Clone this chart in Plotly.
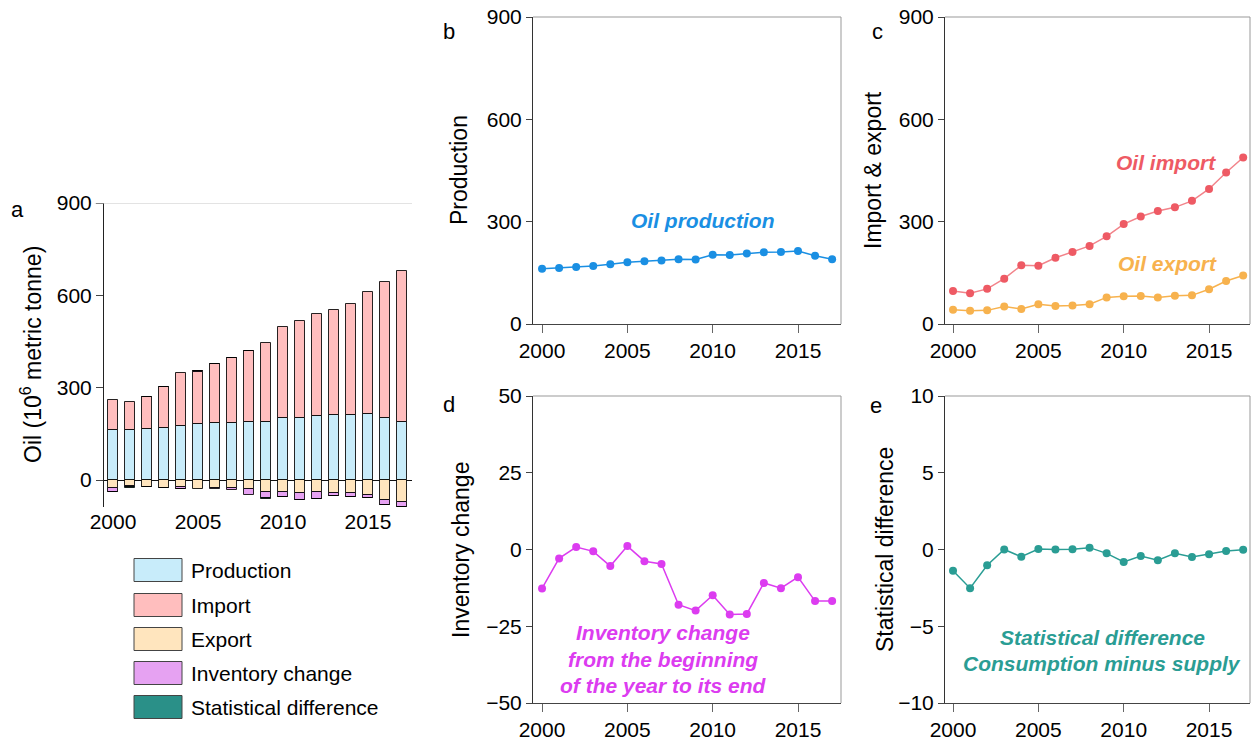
import plotly.graph_objects as go

# ---------------- data ----------------
years = list(range(2000, 2018))
production = [162, 164, 167, 170, 175, 181, 184, 186, 190, 189, 203, 202, 207, 210, 211, 214, 200, 190]
oil_import = [97, 90, 103, 133, 172, 171, 194, 211, 229, 257, 293, 315, 331, 342, 361, 396, 444, 488]
oil_export = [42, 39, 40, 51, 44, 58, 53, 54, 58, 78, 81, 82, 78, 83, 84, 102, 126, 142]
# export as drawn in the stacked bar panel (a)
export_bar = [-25, -21, -22, -25, -24, -29, -27, -27, -30, -40, -40, -43, -40, -42, -43, -49, -65, -70]
inventory = [-12.7, -2.9, 0.8, -0.6, -5.4, 1.1, -3.8, -4.7, -18.0, -19.9, -14.9, -21.2, -21.0,
             -10.9, -12.6, -9.0, -16.8, -16.8]
stat_diff = [-1.38, -2.52, -1.03, 0.0, -0.47, 0.03, 0.0, 0.01, 0.12, -0.25, -0.81, -0.42, -0.70,
             -0.25, -0.49, -0.31, -0.10, -0.01]

year_ticks = [2000, 2005, 2010, 2015]
legend_names = ["Production", "Import", "Export", "Inventory change", "Statistical difference"]
bar_colors = ["#C8ECFA", "#FFBEBE", "#FFE5BE", "#E6A2F2", "#2A9088"]

# ---------------- layout helpers ----------------
W, H = 1252, 742
FONT = "Liberation Sans, Arial, sans-serif"


def px(x):
    return x / W


def py(y):
    return 1 - y / H


fig = go.Figure()

# Panel a: stacked bars
bar_series = [production, oil_import, export_bar, inventory, stat_diff]
for name, vals, col in zip(legend_names, bar_series, bar_colors):
    fig.add_trace(go.Bar(x=years, y=vals, name=name, width=0.6,
                         marker=dict(color=col, line=dict(color="rgba(0,0,0,0.85)", width=1)),
                         xaxis="x", yaxis="y", showlegend=False))

# Panel b: production
prod_col = "#1A8FE3"
fig.add_trace(go.Scatter(x=years, y=production, mode="lines+markers",
                         line=dict(color=prod_col, width=1.5), marker=dict(color=prod_col, size=8),
                         xaxis="x2", yaxis="y2", showlegend=False))
# Panel c: import & export
imp_col = "#EE5A64"
exp_col = "#F7B24E"
fig.add_trace(go.Scatter(x=years, y=oil_import, mode="lines+markers",
                         line=dict(color="#F2838A", width=1.5), marker=dict(color=imp_col, size=8),
                         xaxis="x3", yaxis="y3", showlegend=False))
fig.add_trace(go.Scatter(x=years, y=oil_export, mode="lines+markers",
                         line=dict(color=exp_col, width=1.5), marker=dict(color=exp_col, size=8),
                         xaxis="x3", yaxis="y3", showlegend=False))
# Panel d: inventory
inv_col = "#DC3CF0"
fig.add_trace(go.Scatter(x=years, y=inventory, mode="lines+markers",
                         line=dict(color=inv_col, width=1.5), marker=dict(color=inv_col, size=8),
                         xaxis="x4", yaxis="y4", showlegend=False))
# Panel e: statistical difference
st_col = "#2A9D94"
fig.add_trace(go.Scatter(x=years, y=stat_diff, mode="lines+markers",
                         line=dict(color=st_col, width=1.5), marker=dict(color=st_col, size=8),
                         xaxis="x5", yaxis="y5", showlegend=False))

tickfont = dict(family=FONT, size=21, color="black")

# domains
dom_a_x = [px(104), px(412)]
dom_a_y = [py(507), py(203)]
dom_b_x = [px(533), px(841)]
dom_c_x = [px(945), px(1250)]
dom_top_y = [py(324), py(17)]
dom_bot_y = [py(703), py(396)]


def xax(domain, rng, anchor):
    return dict(domain=domain, range=rng, anchor=anchor, tickvals=year_ticks, tickfont=tickfont,
                showline=True, linecolor="#444", linewidth=1, ticks="outside", ticklen=8,
                tickcolor="#666", showgrid=False, zeroline=False, automargin=False)


def yax(domain, rng, anchor, tv):
    return dict(domain=domain, range=rng, anchor=anchor, tickvals=tv, tickfont=tickfont,
                showline=True, linecolor="#333", linewidth=1, ticks="outside", ticklen=6,
                tickcolor="#444", showgrid=False, zeroline=False, automargin=False)


fig.update_layout(
    width=W, height=H, margin=dict(l=0, r=0, t=0, b=0, pad=0),
    paper_bgcolor="white", plot_bgcolor="white",
    barmode="relative", bargap=0,
    font=dict(family=FONT, size=21, color="black"),
    xaxis=dict(domain=dom_a_x, range=[1999.47, 2017.59], anchor="y", tickvals=year_ticks,
               tickfont=tickfont, showline=False, ticks="", showgrid=False, zeroline=False,
               automargin=False),
    yaxis=dict(domain=dom_a_y, range=[-87.7, 900], anchor="x", tickvals=[0, 300, 600, 900],
               tickfont=tickfont, showline=True, linecolor="#222", linewidth=1, ticks="outside",
               ticklen=7, tickcolor="#444", showgrid=False, zeroline=True,
               zerolinecolor="#111", zerolinewidth=1, automargin=False),
    xaxis2=xax(dom_b_x, [1999.47, 2017.52], "y2"),
    yaxis2=yax(dom_top_y, [0, 900], "x2", [0, 300, 600, 900]),
    xaxis3=xax(dom_c_x, [1999.53, 2017.4], "y3"),
    yaxis3=yax(dom_top_y, [0, 900], "x3", [0, 300, 600, 900]),
    xaxis4=xax(dom_b_x, [1999.47, 2017.52], "y4"),
    yaxis4=yax(dom_bot_y, [-50, 50], "x4", [-50, -25, 0, 25, 50]),
    xaxis5=xax(dom_c_x, [1999.53, 2017.4], "y5"),
    yaxis5=yax(dom_bot_y, [-10, 10], "x5", [-10, -5, 0, 5, 10]),
)

shapes = []
# light gridline at 900 in panel a
shapes.append(dict(type="line", xref="x domain", yref="y", x0=-0.03, x1=1, y0=900, y1=900,
                   line=dict(color="#C8C8C8", width=1)))
# top and right frame lines for panels b-e
for ax in ["2", "3", "4", "5"]:
    shapes.append(dict(type="line", xref=f"x{ax} domain", yref=f"y{ax} domain",
                       x0=0, x1=1, y0=1, y1=1, line=dict(color="#999", width=1)))
    shapes.append(dict(type="line", xref=f"x{ax} domain", yref=f"y{ax} domain",
                       x0=1, x1=1, y0=0, y1=1, line=dict(color="#999", width=1)))

annotations = []
# legend (manual)
row_y = [570, 605, 639, 673, 707]
for name, col, yy in zip(legend_names, bar_colors, row_y):
    shapes.append(dict(type="rect", xref="paper", yref="paper",
                       x0=px(134), x1=px(182), y0=py(yy + 11.5), y1=py(yy - 11.5),
                       fillcolor=col, line=dict(color="#444", width=1)))
    annotations.append(dict(xref="paper", yref="paper", x=px(189), y=py(yy), text=name,
                            showarrow=False, xanchor="left", yanchor="middle",
                            font=dict(family=FONT, size=21, color="black")))

# panel letters
for letter, (lx, ly) in zip("abcde", [(17, 209), (449, 32), (877, 32), (449, 404), (876, 405)]):
    annotations.append(dict(xref="paper", yref="paper", x=px(lx), y=py(ly), text=letter,
                            showarrow=False, xanchor="center", yanchor="middle",
                            font=dict(family=FONT, size=22, color="black")))

# y-axis titles
ytitles = [("Oil (10<sup>6</sup> metric tonne)", 31, 355),
           ("Production", 459, 170),
           ("Import & export", 873, 170),
           ("Inventory change", 461, 550),
           ("Statistical difference", 885, 550)]
for txt, tx, ty in ytitles:
    annotations.append(dict(xref="paper", yref="paper", x=px(tx), y=py(ty), text=txt,
                            showarrow=False, textangle=-90, xanchor="center", yanchor="middle",
                            font=dict(family=FONT, size=23, color="black")))


# in-panel labels (bold italic)
def lab(text, x, y, color):
    annotations.append(dict(xref="paper", yref="paper", x=px(x), y=py(y),
                            text=f"<b><i>{text}</i></b>", showarrow=False,
                            xanchor="center", yanchor="middle",
                            font=dict(family=FONT, size=21, color=color)))


lab("Oil production", 702, 220, "#1A8FE3")
lab("Oil import", 1166, 162, "#EE5A64")
lab("Oil export", 1167, 263, "#F7B24E")
lab("Inventory change", 663, 632, "#DC3CF0")
lab("from the beginning", 663, 659, "#DC3CF0")
lab("of the year to its end", 663, 685, "#DC3CF0")
lab("Statistical difference", 1102, 637, "#2A9D94")
lab("Consumption minus supply", 1102, 663, "#2A9D94")

fig.update_layout(shapes=shapes, annotations=annotations)

fig.write_html("out.html", config={"displayModeBar": False},
               post_script="document.body.style.margin='0';document.body.style.overflow='hidden';")
